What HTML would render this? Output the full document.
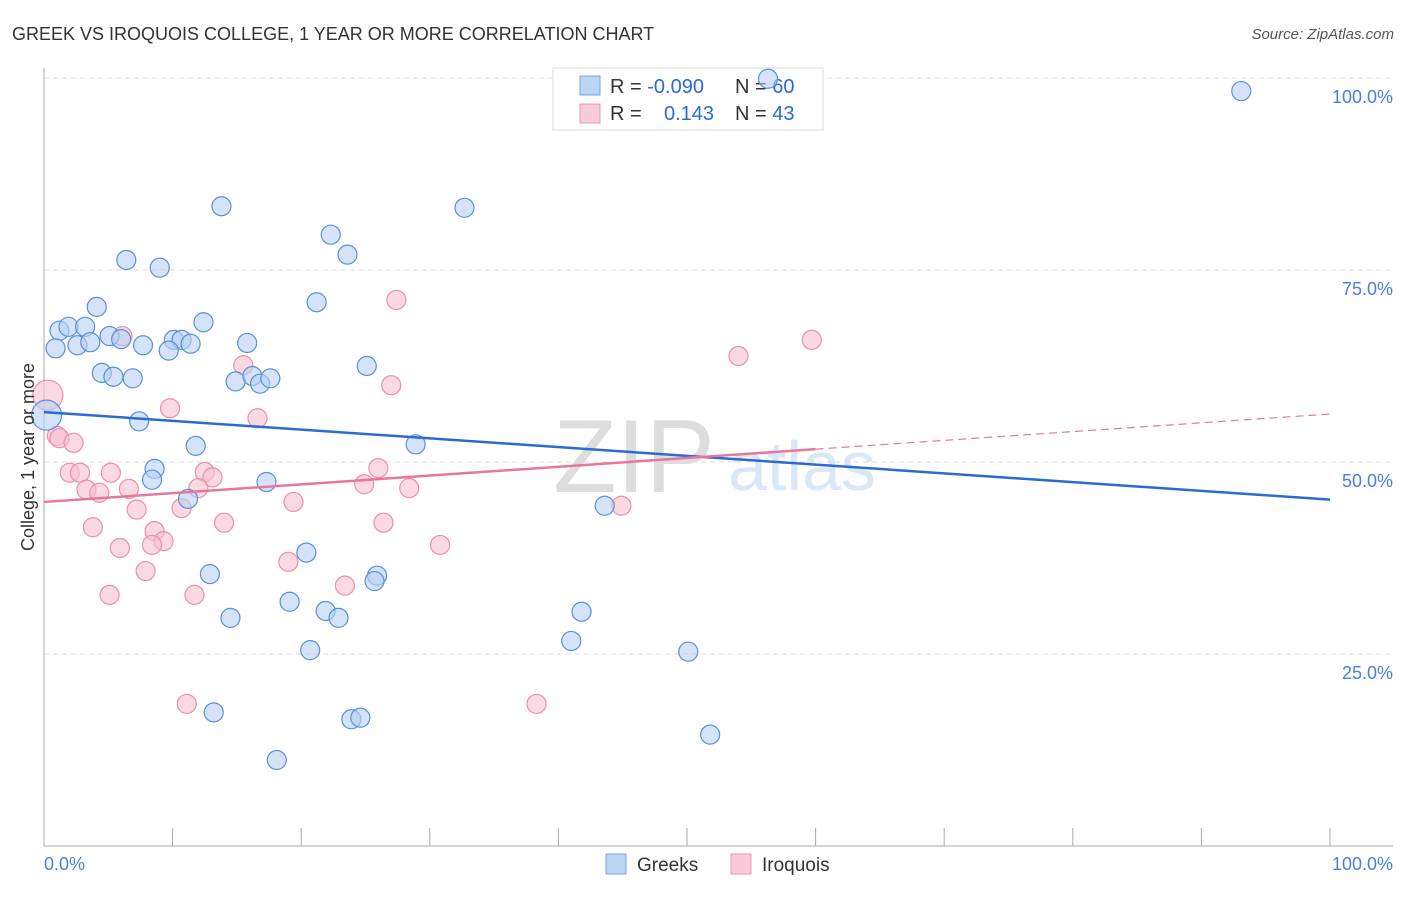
<!DOCTYPE html>
<html><head><meta charset="utf-8"><style>
body{margin:0;background:#fff;font-family:"Liberation Sans",sans-serif;}
svg text{font-family:"Liberation Sans",sans-serif;}
</style></head><body>
<svg id="chart" width="1406" height="892" xmlns="http://www.w3.org/2000/svg">
<text x="12" y="40" font-size="18" fill="#333">GREEK VS IROQUOIS COLLEGE, 1 YEAR OR MORE CORRELATION CHART</text>
<text x="1394" y="39" font-size="15" fill="#555" font-style="italic" text-anchor="end">Source: ZipAtlas.com</text>
<text x="634" y="492" font-size="104" fill="#ddd" font-family="Liberation Serif" text-anchor="middle">ZIP</text>
<text x="802" y="490" font-size="70" fill="#dbe6f6" text-anchor="middle">atlas</text>
<g id="grid"></g>
<g>
<rect x="553" y="68" width="270" height="62" fill="#fff" stroke="#ddd"/>
<rect x="580" y="76" width="20" height="19" fill="#bcd4f4" stroke="#7aa4e0"/>
<rect x="580" y="104" width="20" height="19" fill="#f9cbd8" stroke="#ec9ab2"/>
<text x="610" y="93" font-size="20" fill="#333">R = <tspan fill="#2a6ad6">-0.090</tspan></text>
<text x="735" y="93" font-size="20" fill="#333">N = <tspan fill="#2a6ad6">60</tspan></text>
<text x="610" y="120" font-size="20" fill="#333">R = </text>
<text x="664" y="120" font-size="20" fill="#2a6ad6">0.143</text>
<text x="735" y="120" font-size="20" fill="#333">N = <tspan fill="#2a6ad6">43</tspan></text>
</g>
<g id="marks"></g>
<text transform="translate(34,457) rotate(-90)" font-size="18" fill="#333" text-anchor="middle">College, 1 year or more</text>
<text x="44" y="870" font-size="18" fill="#4a7fd6">0.0%</text>
<text x="1393" y="870" font-size="18" fill="#4a7fd6" text-anchor="end">100.0%</text>
<g>
<rect x="606" y="854" width="20" height="20" fill="#bcd4f4" stroke="#7aa4e0"/>
<text x="637" y="871" font-size="19" fill="#333">Greeks</text>
<rect x="731" y="854" width="20" height="20" fill="#f9cbd8" stroke="#ec9ab2"/>
<text x="762" y="871" font-size="19" fill="#333">Iroquois</text>
</g>
</svg>
<script>
const yTicks=[25,50,75,100];
const yTickLabels=["25.0%","50.0%","75.0%","100.0%"];
const xTicks=[0,10,20,30,40,50,60,70,80,90,100];
const greekX=[56.3,93.1,13.8,32.7,22.3,23.6,6.4,9.0,21.2,4.1,12.4,1.2,1.9,3.2,5.1,6.0,7.7,10.1,10.7,11.4,9.7,2.6,3.6,0.9,15.8,4.5,5.4,6.9,14.9,16.2,16.8,17.6,25.1,7.4,0.2,11.8,28.9,8.6,8.4,11.2,17.3,43.6,20.4,12.9,25.9,25.7,19.1,21.9,22.9,14.5,41.8,41.0,20.7,50.1,13.2,23.9,24.6,51.8,18.1];
const greekY=[99.9,98.3,83.3,83.1,79.6,77.0,76.3,75.3,70.8,70.2,68.2,67.1,67.6,67.6,66.4,66.0,65.2,65.9,65.9,65.4,64.5,65.2,65.6,64.8,65.5,61.6,61.1,60.9,60.5,61.2,60.2,60.9,62.5,55.3,56.1,52.1,52.3,49.1,47.7,45.2,47.4,44.3,38.2,35.4,35.2,34.5,31.8,30.6,29.7,29.7,30.5,26.7,25.5,25.3,17.4,16.5,16.7,14.5,11.2];
const iroqX=[27.4,59.7,54.0,6.1,15.5,27.0,0.3,9.8,16.6,1.0,1.2,2.3,2.0,2.8,5.2,26.0,12.5,13.1,24.9,3.3,4.3,6.6,12.0,28.4,19.4,10.7,7.2,14.0,26.4,3.8,8.6,9.3,8.4,5.9,30.8,19.0,7.9,23.4,5.1,11.7,44.9,11.1,38.3];
const iroqY=[71.1,65.9,63.8,66.4,62.6,60.0,58.7,57.0,55.7,53.4,53.1,52.5,48.6,48.6,48.6,49.2,48.7,48.0,47.1,46.4,46.0,46.5,46.6,46.6,44.8,44.0,43.8,42.1,42.1,41.5,41.0,39.7,39.2,38.8,39.2,37.0,35.8,33.9,32.7,32.7,44.3,18.5,18.5];
const greekTrend=[56.5,45.1];
const iroqTrend=[44.8,56.25];
const iroqSolidEnd=60;
const NS="http://www.w3.org/2000/svg";
const X=v=>44+v*12.86, Y=v=>846-v*7.68;
const grid=document.getElementById('grid'), marks=document.getElementById('marks');
function mk(tag,attrs,parent){const e=document.createElementNS(NS,tag);for(const k in attrs)e.setAttribute(k,attrs[k]);parent.appendChild(e);return e;}
yTicks.forEach((t,i)=>{
 const l=mk('line',{x1:44,x2:1393,y1:Y(t),y2:Y(t),stroke:'#ddd','stroke-dasharray':'5,4'},grid);
 
 
 const tx=mk('text',{x:1393,y:Y(t)+25,'font-size':18,fill:'#4a7fd6','text-anchor':'end'},grid);
 tx.textContent=yTickLabels[i];
 
 
});
const ax=mk('line',{x1:44,x2:1393,y1:846,y2:846,stroke:'#aaa'},grid);


const ay=mk('line',{x1:44,x2:44,y1:68,y2:846,stroke:'#aaa'},grid);


xTicks.forEach(t=>{
 const l=mk('line',{x1:X(t),x2:X(t),y1:828,y2:846,stroke:'#aaa'},grid);
 
 
});
function pts(xs,ys,fill,stroke,name){
 xs.forEach((x,i)=>{
  const big=(x<1.5&&(ys[i]>55&&ys[i]<60));
  const c=mk('circle',{cx:X(x),cy:Y(ys[i]),r:big?15:9.5,fill:fill,'fill-opacity':0.6,stroke:stroke,'stroke-width':1.2},marks);
  
  
 });
}
pts(iroqX,iroqY,'#f7bfd0','#ec8fab','iroquois-point');
pts(greekX,greekY,'#b7d0f3','#5b8fdc','greek-point');
const gl=mk('line',{x1:X(0),y1:Y(greekTrend[0]),x2:X(100),y2:Y(greekTrend[1]),stroke:'#2a6ad6','stroke-width':2.5},marks);


const iAt=v=>iroqTrend[0]+(iroqTrend[1]-iroqTrend[0])*v/100;
const il=mk('line',{x1:X(0),y1:Y(iAt(0)),x2:X(iroqSolidEnd),y2:Y(iAt(iroqSolidEnd)),stroke:'#e8769b','stroke-width':2.5},marks);


const id=mk('line',{x1:X(iroqSolidEnd),y1:Y(iAt(iroqSolidEnd)),x2:X(100),y2:Y(iAt(100)),stroke:'#e8769b','stroke-width':1.2,'stroke-dasharray':'8,5'},marks);


</script>
</body></html>
